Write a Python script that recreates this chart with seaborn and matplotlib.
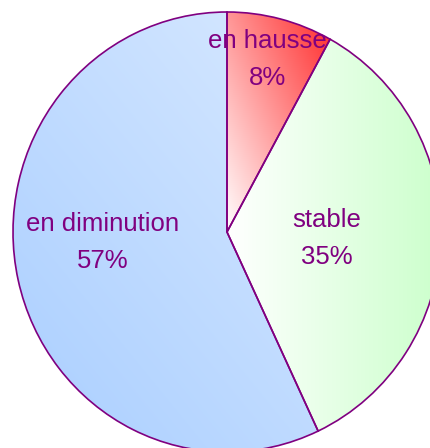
import numpy as np
import matplotlib
matplotlib.use("Agg")
import matplotlib.pyplot as plt
import seaborn as sns

# data
labels = ["en hausse", "stable", "en diminution"]
shares = [8, 35, 57]
pct_labels = ["8%", "35%", "57%"]

# gradient colours per slice: (start colour, end colour, direction in degrees)
grad_start = ["#ffffff", "#ffffff", "#a9ceff"]
grad_end = ["#ff2a2a", "#ccffcc", "#d8e9ff"]
grad_angle = [25, 0, 40]

# label placement (pixel coords of the picture)
label_xy = [(267, 41), (327, 220), (103, 224)]

sns.set_theme(style="white")
plt.rcParams["font.family"] = ["Liberation Sans", "DejaVu Sans"]

W, H = 431, 448
fig = plt.figure(figsize=(W / 100, H / 100), dpi=100)
ax = fig.add_axes([0, 0, 1, 1])

# the original pie is slightly taller than wide -> squeeze x
k = 214 / 220
cx, cy, r = 227 / k, 232, 220
# y axis runs downward (pixel coords), so -90 is the top and counterclock draws clockwise on screen
wedges, _ = ax.pie(shares, startangle=-90, counterclock=True, center=(cx, cy),
                   radius=r, wedgeprops=dict(edgecolor="#800080", linewidth=1.2))

xx, yy = np.meshgrid(np.linspace(cx - r, cx + r, 400), np.linspace(cy - r, cy + r, 400))
for w, c0, c1, ang in zip(wedges, grad_start, grad_end, grad_angle):
    # project onto gradient direction over the wedge's bounding box
    bb = w.get_path().get_extents(w.get_patch_transform())
    a = np.deg2rad(ang)
    dx, dy = np.cos(a), -np.sin(a)
    proj = xx * dx + yy * dy
    corners = np.array([[bb.x0, bb.y0], [bb.x1, bb.y0], [bb.x0, bb.y1], [bb.x1, bb.y1]])
    cp = corners @ np.array([dx, dy])
    t = np.clip((proj - cp.min()) / (cp.max() - cp.min()), 0, 1)
    c0 = np.array(matplotlib.colors.to_rgb(c0))
    c1 = np.array(matplotlib.colors.to_rgb(c1))
    img = c0[None, None, :] * (1 - t[..., None]) + c1[None, None, :] * t[..., None]
    w.set_facecolor("none")
    im = ax.imshow(img, extent=(cx - r, cx + r, cy + r, cy - r), origin="upper",
                   interpolation="bilinear", zorder=0, aspect="auto")
    im.set_clip_path(w)

for (x, y), lab, p in zip(label_xy, labels, pct_labels):
    ax.text(x / k, y, lab, ha="center", va="center", fontsize=18.5, color="#800080")
    ax.text(x / k, y + 37, p, ha="center", va="center", fontsize=18.5, color="#800080")

ax.set_xlim(0, W / k)
ax.set_ylim(H, 0)
ax.set_aspect("auto")
ax.axis("off")

fig.savefig("out.png", dpi=100)
